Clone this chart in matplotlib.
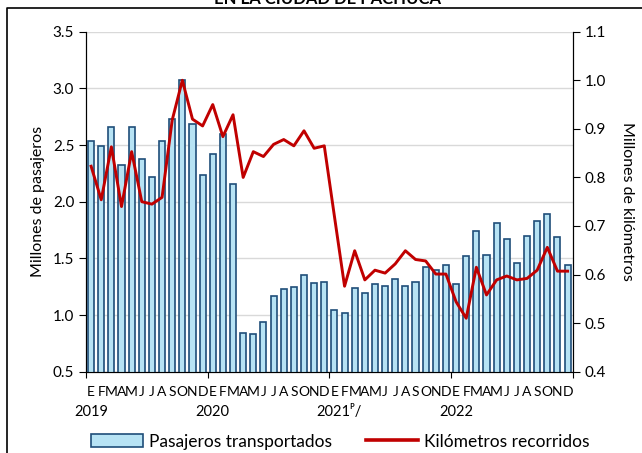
import matplotlib.pyplot as plt
from matplotlib.lines import Line2D
from matplotlib.patches import Patch
import matplotlib.transforms as mtransforms

plt.rcParams['font.family'] = ['Lato', 'DejaVu Sans']

meses = ['E', 'F', 'M', 'A', 'M', 'J', 'J', 'A', 'S', 'O', 'N', 'D'] * 4
anios = ['2019', '2020', '2021\u1d3e/', '2022']

# millones de pasajeros, ene 2019 - dic 2022
pasajeros = [2.54, 2.49, 2.66, 2.32, 2.66, 2.38, 2.22, 2.54, 2.73, 3.07, 2.69, 2.24,
             2.42, 2.60, 2.16, 0.84, 0.83, 0.94, 1.17, 1.23, 1.25, 1.35, 1.28, 1.29,
             1.04, 1.02, 1.24, 1.19, 1.27, 1.26, 1.32, 1.26, 1.29, 1.42,
             1.40, 1.44, 1.27, 1.52, 1.74, 1.53, 1.81, 1.67, 1.46, 1.70, 1.83, 1.89, 1.69, 1.44]

# millones de kilometros
kilometros = [0.823, 0.754, 0.863, 0.740, 0.853, 0.750, 0.745, 0.759, 0.918, 1.000, 0.920, 0.906,
              0.950, 0.884, 0.929, 0.800, 0.853, 0.843, 0.868, 0.878, 0.865, 0.896, 0.860, 0.865,
              0.720, 0.576, 0.649, 0.589, 0.609, 0.603, 0.622, 0.649, 0.631, 0.628,
              0.601, 0.601, 0.544, 0.510, 0.615, 0.558, 0.589, 0.597, 0.589, 0.592, 0.609, 0.656, 0.607, 0.607]

x = list(range(len(pasajeros)))

fig = plt.figure(figsize=(6.42, 4.53), dpi=100)
ax = fig.add_axes([0.134, 0.1795, 0.758, 0.7505])

ax.bar(x, pasajeros, width=0.6, color='#b7e3f4', edgecolor='#1f4e79', linewidth=1.2, zorder=3)
ax.set_xlim(-0.5, 47.5)
ax.set_ylim(0.5, 3.5)
ax.set_yticks([0.5, 1.0, 1.5, 2.0, 2.5, 3.0, 3.5])
ax.set_yticklabels(['%.1f' % v for v in ax.get_yticks()], fontsize=11)
ax.yaxis.grid(True, color='#d9d9d9', linewidth=1, zorder=0)
ax.set_axisbelow(True)
ax.set_ylabel('Millones de pasajeros', fontsize=11.5, labelpad=6)

ax.set_xticks([-0.5, 11.5, 23.5, 35.5, 47.5])
ax.set_xticklabels([])
ax.set_xticks(x, minor=True)
ax.set_xticklabels(meses, minor=True, fontsize=10)
ax.tick_params(axis='x', which='minor', length=0, pad=10)
ax.tick_params(axis='x', which='major', length=4, direction='out')
ax.tick_params(axis='y', length=5, direction='out')
ax.spines['top'].set_visible(False)
for s in ['left', 'bottom', 'right']:
    ax.spines[s].set_color('black')

trans = mtransforms.blended_transform_factory(ax.transData, ax.transAxes)
for i, a in enumerate(anios):
    if i == 2:
        ax.text(i * 12 - 1.8, -0.12, a, transform=trans, ha='left', va='center', fontsize=10.5)
    else:
        ax.text(i * 12, -0.12, a, transform=trans, ha='center', va='center', fontsize=10.5)

ax2 = ax.twinx()
ax2.plot(x, kilometros, color='#c00000', linewidth=2.1, zorder=4)
ax2.set_ylim(0.4, 1.1)
ax2.set_yticks([0.4, 0.5, 0.6, 0.7, 0.8, 0.9, 1.0, 1.1])
ax2.set_yticklabels(['%.1f' % v for v in ax2.get_yticks()], fontsize=11)
ax2.tick_params(axis='y', length=5, direction='out')
ax2.spines['top'].set_visible(False)
ax2.set_ylabel('Millones de kilómetros', fontsize=11.5, rotation=-90, labelpad=20)

handles = [Patch(facecolor='#b7e3f4', edgecolor='#1f4e79', linewidth=1.2),
           Line2D([0], [0], color='#c00000', linewidth=2.6)]
fig.legend(handles, ['Pasajeros transportados', 'Kilómetros recorridos'],
           loc='lower center', bbox_to_anchor=(0.53, -0.027), ncol=2, frameon=False,
           fontsize=12.5, handlelength=3.0, handleheight=0.75, columnspacing=2.0, handletextpad=0.3)

# titulo cortado arriba y marco
fig.text(327 / 642, 1 - 4 / 453, 'EN LA CIUDAD DE PACHUCA', ha='center', va='baseline',
         fontsize=12, fontweight='bold')
fig.add_artist(Line2D([7 / 642, 7 / 642, 1.0], [0.0, 1 - 8 / 453, 1 - 8 / 453],
                      transform=fig.transFigure, color='black', linewidth=1.2))

fig.savefig('out.png', dpi=100)
